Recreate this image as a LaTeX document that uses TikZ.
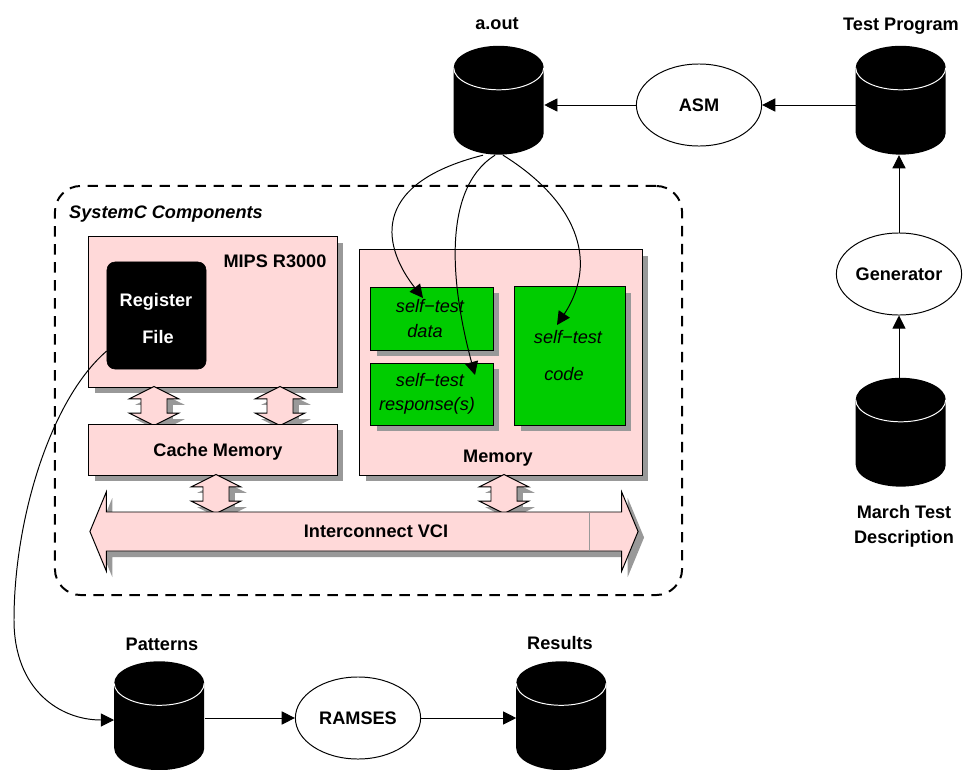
\documentclass[tikz,border=0pt]{standalone}
\usepackage{fontspec}
\setmainfont{Liberation Sans}
\usetikzlibrary{positioning}
\usetikzlibrary{shapes.geometric}
\usetikzlibrary{shapes.arrows}
\usetikzlibrary{arrows.meta}
\definecolor{boxpink}{HTML}{FFD9D9}
\definecolor{boxgreen}{HTML}{00CC00}
\definecolor{boxshadow}{HTML}{999999}
\newcommand{\linkgap}{\phantom{\rule{0.625cm}{0.625cm}}}
\tikzset{
  lbl/.style={inner sep=0pt, font=\fontsize{12.9}{15}\selectfont\bfseries},
  itlbl/.style={inner sep=0pt, font=\fontsize{12.9}{15}\selectfont\itshape},
  flatshadow/.style={preaction={draw=none, fill=boxshadow, transform canvas={shift={(0.15cm,-0.15cm)}}}},
  pinkbox/.style={rectangle, draw=black, line width=0.7pt, fill=boxpink, inner sep=0pt, flatshadow},
  greenbox/.style={rectangle, draw=black, line width=0.7pt, fill=boxgreen, inner sep=0pt, flatshadow},
  proc/.style={ellipse, draw=black, line width=0.7pt, fill=white, inner sep=0pt, minimum width=3.13cm, minimum height=2.05cm, lbl},
  store/.style={rectangle, inner sep=0pt, minimum width=2.25cm, minimum height=2.72cm},
  link/.style={double arrow, shape border rotate=90, draw=black, line width=0.7pt, fill=boxpink, inner sep=0pt,
    minimum width=1.2cm, minimum height=0.9cm, double arrow head extend=0.29cm, double arrow tip angle=127, flatshadow},
  flow/.style={-{Triangle[length=0.33cm, width=0.33cm]}, line width=0.7pt},
}
\begin{document}
\begin{tikzpicture}[x=0.025cm, y=-0.025cm]
  \useasboundingbox (0, 0) rectangle (963, 770);

  \node[rectangle, draw=black, line width=1.4pt, dash pattern=on 0.26cm off 0.19cm, rounded corners=0.65cm,
    minimum width=15.675cm, minimum height=10.225cm] (sysc) at (368.5, 390.5) {};
  \node[lbl, font=\fontsize{12.9}{15}\selectfont\bfseries\itshape] (sysclbl) at (166, 214) {SystemC Components};

  % processor side
  \node[pinkbox, minimum width=6.2cm, minimum height=3.75cm] (mips) at (213, 312) {};
  \node[link] (lnka) at (154, 406) {\linkgap};
  \node[link] (lnkb) at (280, 406) {\linkgap};
  \node[pinkbox, minimum width=6.2cm, minimum height=1.275cm] (cache) at (213, 449.5) {};
  \node[lbl] (cachelbl) at (218, 452) {Cache Memory};
  \node[lbl] (mipslbl) at (275, 261) {MIPS R3000};
  \node[rectangle, draw=black, fill=black, rounded corners=0.2cm, minimum width=2.475cm, minimum height=2.675cm] (reg) at (156.5, 315.5) {};
  \node[lbl, text=white] (reglbla) at (156, 302) {Register};
  \node[lbl, text=white] (reglblb) at (158, 337) {File};

  % memory side
  \node[pinkbox, minimum width=7.05cm, minimum height=5.625cm] (mem) at (501, 362.5) {};
  \node[lbl] (memlbl) at (498, 458) {Memory};
  \node[greenbox, minimum width=3.05cm, minimum height=1.575cm] (data) at (432, 318.5) {};
  \node[itlbl] (datalbla) at (430, 306) {self−test};
  \node[itlbl] (datalblb) at (425, 331) {data};
  \node[greenbox, minimum width=3.05cm, minimum height=1.55cm] (resp) at (432, 394) {};
  \node[itlbl] (resplbla) at (430, 380) {self−test};
  \node[itlbl] (resplblb) at (427, 406) {response(s)};
  \node[greenbox, minimum width=2.75cm, minimum height=3.45cm] (code) at (570, 356) {};
  \node[itlbl] (codelbla) at (568, 337) {self−test};
  \node[itlbl] (codelblb) at (564, 374) {code};

  % bus
  \node[link] (lnkc) at (216, 494) {\linkgap};
  \node[link] (lnkd) at (504, 494) {\linkgap};
  \node[double arrow, draw=black, line width=0.7pt, fill=boxpink, inner sep=0pt, minimum width=1.95cm, minimum height=13.7cm,
    double arrow head extend=0.5cm, double arrow tip angle=135, flatshadow] (bus) at (364, 531.5) {\rule{0pt}{0.95cm}};
  \draw[boxshadow, line width=0.6pt] (589, 513) -- (589, 551);
  \node[lbl] (buslbl) at (376, 531) {Interconnect VCI};

  % stores and tools
  \node[store] (aout) at (499, 100.5) {};
  \node[lbl] (aoutlbl) at (497, 24) {a.out};
  \node[store] (testprog) at (901, 100.5) {};
  \node[lbl] (testproglbl) at (901, 26) {Test Program};
  \node[store] (march) at (901, 432.5) {};
  \node[lbl] (marchlbla) at (904, 512) {March Test};
  \node[lbl] (marchlblb) at (904, 539) {Description};
  \node[store] (patterns) at (159.5, 716) {};
  \node[lbl] (patternslbl) at (162, 644) {Patterns};
  \node[store] (results) at (561.5, 716) {};
  \node[lbl] (resultslbl) at (560, 643) {Results};
  \foreach \st in {aout, testprog, march, patterns, results} {
    \coordinate (corner) at (\st.west |- \st.north);
    \fill[black] ([yshift=-0.55cm]corner) arc[start angle=180, end angle=0, x radius=1.125cm, y radius=0.55cm]
      -- ++(0cm, -1.62cm) arc[start angle=0, end angle=-180, x radius=1.125cm, y radius=0.55cm] -- cycle;
    \draw[white, line width=0.7pt] ([yshift=-0.55cm]corner) arc[start angle=180, end angle=360, x radius=1.125cm, y radius=0.55cm];
  }
  \node[proc] (asm) at (699, 105) {ASM};
  \node[proc] (gen) at (899, 274) {Generator};
  \node[proc] (ramses) at (358, 718) {RAMSES};

  \draw[flow] (testprog.west |- asm.east) -- (asm.east);
  \draw[flow] (asm.west) -- (aout.east |- asm.west);
  \draw[flow] (gen.north) -- (gen.north |- testprog.south);
  \draw[flow] (gen.south |- march.north) -- (gen.south);
  \draw[flow] (patterns.east |- ramses.west) -- (ramses.west);
  \draw[flow] (ramses.east) -- (ramses.east -| results.west);

  \coordinate (datatip) at (423, 298);
  \coordinate (resptip) at (475, 375);
  \coordinate (codetip) at (557, 325);
  \coordinate (patterntip) at (114, 720);
  \draw[flow] ([xshift=-0.4cm]aout.south) .. controls (365, 185) and (385, 250) .. (datatip);
  \draw[flow] ([xshift=-0.1cm]aout.south) .. controls (440, 190) and (452, 290) .. (resptip);
  \draw[flow] ([xshift=0.1cm]aout.south) .. controls (575, 200) and (600, 260) .. (codetip);
  \draw[flow] (reg.west |- 107, 351) .. controls (50, 400) and (14, 520) .. (14, 620)
    .. controls (14, 690) and (60, 720) .. (patterntip);
\end{tikzpicture}
\end{document}
